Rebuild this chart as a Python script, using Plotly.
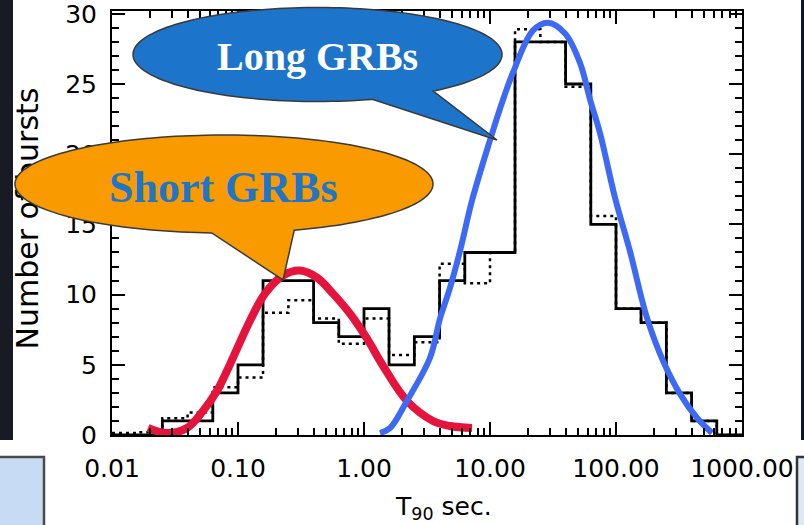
import numpy as np
import plotly.graph_objects as go

# ---- data -------------------------------------------------------------
# T90 bin edges in seconds (0.2-decade logarithmic bins)
bin_edges = [0.01, 0.0158, 0.0251, 0.0398, 0.0631, 0.1, 0.158, 0.251, 0.398, 0.631,
             1.0, 1.58, 2.51, 3.98, 6.31, 10.0, 15.8, 25.1, 39.8, 63.1,
             100.0, 158.0, 251.0, 398.0, 631.0, 1000.0]
counts_solid = [0, 0, 1, 1, 3, 5, 11, 11, 8, 7, 9, 5, 7, 11, 13, 13,
                28, 28, 25, 15, 9, 8, 3, 1, 0]
counts_dotted = [0.15, 0.2, 1.2, 1.6, 3.4, 4.1, 8.7, 9.6, 8.3, 6.5, 8.3, 5.7, 6.6,
                 12.2, 10.8, 13, 28.9, 28, 24.8, 15.6, 9, 8, 3, 1, 0]

# hand-drawn component curves (T90 in s, number of bursts)
short_t = [0.0193, 0.0268, 0.0394, 0.0527, 0.0681, 0.0818, 0.1245, 0.1637, 0.2275,
           0.3105, 0.4236, 0.5675, 0.7745, 1.057, 1.416, 2.193, 3.53, 4.82, 7.2]
short_n = [0.5, 0.14, 0.5, 1.71, 3.14, 4.57, 8.14, 10.07, 11.36,
           11.71, 11.21, 10.07, 8.64, 6.86, 4.93, 2.43, 1.0, 0.64, 0.5]
long_t = [1.34, 1.61, 2.19, 3.34, 4.01, 4.82, 5.78, 7.2, 10.0, 12.7, 15.2, 21.9,
          28.8, 39.4, 51.8, 62.2, 74.7, 98.2, 129, 176, 236, 322, 440, 578]
long_n = [0.14, 0.5, 2.43, 5.5, 8.3, 10.5, 13.1, 16.7, 21.0, 23.9, 25.8, 28.8,
          29.36, 28.6, 26.5, 23.9, 21.5, 16.9, 13.1, 8.36, 5.29, 2.93, 1.21, 0.14]

x_tick_vals = [0.01, 0.1, 1, 10, 100, 1000]
x_tick_text = ["0.01", "0.10", "1.00", "10.00", "100.00", "1000.00"]
y_tick_vals = [0, 5, 10, 15, 20, 25, 30]
y_tick_text = ["0", "5", "10", "15", "20", "25", "30"]

# ---- figure geometry (pixels) ----------------------------------------
W, H = 804, 525
PL, PR, PT, PB = 112, 742, 11, 435


def paper(x, y):
    return (x - PL) / (PR - PL), (PB - y) / (PB - PT)


def bubble_path(cx, cy, rx, ry, base_a, tip, base_b, n=160):
    """Ellipse outline with a pointed tail, as an SVG path in paper units."""
    a0 = np.arctan2((base_a[1] - cy) / ry, (base_a[0] - cx) / rx)
    a1 = np.arctan2((base_b[1] - cy) / ry, (base_b[0] - cx) / rx)
    if a1 <= a0:
        a1 += 2 * np.pi
    ang = np.linspace(a0, a1, n)
    pts = [(cx + rx * np.cos(a), cy + ry * np.sin(a)) for a in ang] + [tip]
    segs = []
    for i, (x, y) in enumerate(pts):
        px, py = paper(x, y)
        segs.append(("M" if i == 0 else "L") + f"{px:.5f},{py:.5f}")
    return " ".join(segs) + " Z"


def rect(x0, y0, x1, y1, fill, line_color=None, line_width=0):
    a = paper(x0, y0)
    b = paper(x1, y1)
    return dict(type="rect", xref="paper", yref="paper",
                x0=a[0], y0=a[1], x1=b[0], y1=b[1],
                fillcolor=fill, layer="below",
                line=dict(color=line_color or fill, width=line_width))


def step_xy(edges, counts):
    return list(edges), list(counts) + [counts[-1]]


fig = go.Figure()

xd, yd = step_xy(bin_edges, counts_dotted)
fig.add_trace(go.Scatter(x=xd, y=yd, mode="lines", line_shape="hv",
                         line=dict(color="black", width=2.5, dash="3px,4px"),
                         hoverinfo="skip"))
xs, ys = step_xy(bin_edges, counts_solid)
fig.add_trace(go.Scatter(x=xs, y=ys, mode="lines", line_shape="hv",
                         line=dict(color="black", width=2.8), hoverinfo="skip"))
fig.add_trace(go.Scatter(x=short_t, y=short_n, mode="lines", line_shape="spline",
                         line=dict(color="#e4143c", width=8), hoverinfo="skip"))
fig.add_trace(go.Scatter(x=long_t, y=long_n, mode="lines", line_shape="spline",
                         line=dict(color="#3d6af5", width=6), hoverinfo="skip"))
# invisible anchor trace so the caption axis (y2) gets drawn
fig.add_trace(go.Scatter(x=[1], y=[15], yaxis="y2", mode="markers",
                         marker=dict(opacity=0), hoverinfo="skip"))

shapes = [
    # surrounding slide elements
    rect(-10, -10, 13, 440, "#191b24"),
    rect(-10, 457, 44, 540, "#c7dcf4", "#4a4a4a", 2.5),
    rect(801, -10, 815, 440, "#0e1335"),
    rect(797, 457, 815, 540, "#dfe8f5", "#333333", 2.5),
    # speech bubbles
    dict(type="path", xref="paper", yref="paper", layer="above",
         path=bubble_path(317.5, 54.5, 184.5, 47, (373, 100), (497, 140), (433, 91)),
         fillcolor="#1c74cb", line=dict(color="#3a3a3a", width=1.5)),
    dict(type="path", xref="paper", yref="paper", layer="above",
         path=bubble_path(224, 184, 209, 49, (212, 232), (283, 280), (291, 228)),
         fillcolor="#f99a00", line=dict(color="#3a3a3a", width=1.5)),
]

lx, ly = paper(317.5, 56)
sx, sy = paper(223.5, 187)
tx, ty = paper(443, 508)
annotations = [
    dict(x=lx, y=ly, xref="paper", yref="paper", text="Long GRBs", showarrow=False,
         xanchor="center", yanchor="middle",
         font=dict(family="Liberation Serif", size=40, color="white", weight="bold")),
    dict(x=sx, y=sy, xref="paper", yref="paper", text="Short GRBs", showarrow=False,
         xanchor="center", yanchor="middle",
         font=dict(family="Liberation Serif", size=44, color="#1f76c8", weight="bold")),
    dict(x=tx, y=ty, xref="paper", yref="paper", text="T<sub>90</sub> sec.",
         showarrow=False, xanchor="center", yanchor="middle",
         font=dict(family="DejaVu Sans", size=25, color="black")),
]

axis_font = dict(family="DejaVu Sans", size=25, color="black")

fig.update_layout(
    template="none",
    width=W, height=H,
    margin=dict(l=PL, r=W - PR, t=PT, b=H - PB, pad=0),
    paper_bgcolor="white", plot_bgcolor="white",
    showlegend=False,
    shapes=shapes,
    annotations=annotations,
    xaxis=dict(
        type="log", range=[-2, 3], automargin=False,
        tickmode="array", tickvals=x_tick_vals, ticktext=x_tick_text,
        ticks="inside", ticklen=13, tickwidth=2, tickcolor="black",
        showline=True, linewidth=2, linecolor="black", mirror="ticks",
        showgrid=False, zeroline=False, tickfont=axis_font,
        ticklabelstandoff=10, ticklabeloverflow="allow",
        minor=dict(ticks="inside", ticklen=7, tickwidth=1.5, tickcolor="black",
                   dtick="D1", showgrid=False),
    ),
    yaxis=dict(
        range=[0, 30.2], automargin=False,
        tickmode="array", tickvals=y_tick_vals, ticktext=y_tick_text,
        ticks="inside", ticklen=13, tickwidth=2, tickcolor="black",
        showline=True, linewidth=2, linecolor="black", mirror="ticks",
        showgrid=False, zeroline=False, tickfont=axis_font,
        ticklabelstandoff=8, ticklabeloverflow="allow",
        minor=dict(ticks="inside", ticklen=7, tickwidth=1.5, tickcolor="black",
                   dtick=1, showgrid=False),
    ),
    # vertical axis caption, kept in the axis layer so the bubble can overlap it
    yaxis2=dict(
        overlaying="y", anchor="free", position=0, side="left", automargin=False,
        range=[0, 30.2], tickmode="array", tickvals=[15.1],
        ticktext=["Number of bursts"], tickangle=-90, ticks="",
        showline=False, showgrid=False, zeroline=False,
        tickfont=dict(family="DejaVu Sans", size=30, color="black"),
        ticklabelstandoff=68, ticklabeloverflow="allow",
    ),
)

fig.write_html("out.html")
